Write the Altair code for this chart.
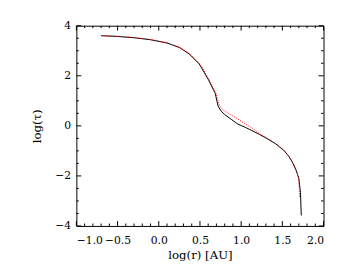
import altair as alt
import pandas as pd

# black solid curve
black_x = [-0.70, -0.50, -0.30, -0.10, 0.10, 0.25, 0.37, 0.49, 0.605, 0.685, 0.72, 0.755,
           0.80, 0.88, 0.96, 1.05, 1.12, 1.22, 1.32, 1.42, 1.515, 1.58, 1.63, 1.67, 1.70, 1.72, 1.73]
black_y = [3.60, 3.57, 3.52, 3.44, 3.31, 3.13, 2.87, 2.48, 1.83, 1.30, 0.79, 0.60,
           0.45, 0.26, 0.07, -0.06, -0.17, -0.34, -0.52, -0.72, -0.97, -1.22, -1.50, -1.80, -2.10, -2.66, -3.58]

# red dotted curve
red_x = [-0.70, -0.50, -0.30, -0.10, 0.10, 0.25, 0.38, 0.50, 0.615, 0.695, 0.735, 0.77,
         0.85, 0.96, 1.05, 1.12, 1.22, 1.32, 1.42, 1.515, 1.58, 1.63, 1.67, 1.70, 1.71]
red_y = [3.61, 3.58, 3.53, 3.45, 3.32, 3.14, 2.88, 2.48, 1.83, 1.30, 0.82, 0.66,
         0.50, 0.27, 0.08, -0.06, -0.30, -0.50, -0.71, -0.96, -1.22, -1.50, -1.80, -2.10, -2.86]

x_major = [-1.0, -0.5, 0.0, 0.5, 1.0, 1.5, 2.0]
x_minor = [-0.9, -0.8, -0.7, -0.6, -0.4, -0.3, -0.2, -0.1, 0.1, 0.2, 0.3, 0.4,
           0.6, 0.7, 0.8, 0.9, 1.1, 1.2, 1.3, 1.4, 1.6, 1.7, 1.8, 1.9]
y_major = [-4, -2, 0, 2, 4]
y_minor = [-3.5, -3, -2.5, -1.5, -1, -0.5, 0.5, 1, 1.5, 2.5, 3, 3.5]

W, H = 253, 205
FONT = "DejaVu Serif"

xs = alt.Scale(domain=[-1, 2], nice=False, zero=False)
ys = alt.Scale(domain=[-4, 4], nice=False, zero=False)

black = pd.DataFrame({"x": black_x, "y": black_y})
red = pd.DataFrame({"x": red_x, "y": red_y})

base_line = alt.Chart(black).mark_line(color="black", strokeWidth=1).encode(
    x=alt.X("x:Q", scale=xs,
            axis=alt.Axis(title="log(r) [AU]", values=x_major, format=".1f",
                          ticks=False, domain=False, grid=False,
                          labelPadding=9, titlePadding=4, titleFontSize=12)),
    y=alt.Y("y:Q", scale=ys,
            axis=alt.Axis(title="log(τ)", values=y_major, format="d",
                          ticks=False, domain=False, grid=False,
                          labelPadding=6, titlePadding=11, titleFontSize=12)),
    order=alt.Order("x:Q"),
)

red_line = alt.Chart(red).mark_line(color="red", strokeWidth=1, strokeDash=[1, 1.5]).encode(
    x=alt.X("x:Q", scale=xs), y=alt.Y("y:Q", scale=ys), order=alt.Order("x:Q"))

def xticks(vals, length):
    d = pd.DataFrame({"v": vals})
    bot = alt.Chart(d).mark_rule(color="black", strokeWidth=1).encode(
        x=alt.X("v:Q", scale=xs), y=alt.value(H), y2=alt.value(H - length))
    top = alt.Chart(d).mark_rule(color="black", strokeWidth=1).encode(
        x=alt.X("v:Q", scale=xs), y=alt.value(0), y2=alt.value(length))
    return [bot, top]

def yticks(vals, length):
    d = pd.DataFrame({"v": vals})
    left = alt.Chart(d).mark_rule(color="black", strokeWidth=1).encode(
        y=alt.Y("v:Q", scale=ys), x=alt.value(0), x2=alt.value(length))
    right = alt.Chart(d).mark_rule(color="black", strokeWidth=1).encode(
        y=alt.Y("v:Q", scale=ys), x=alt.value(W), x2=alt.value(W - length))
    return [left, right]

layers = [base_line, red_line] + xticks(x_major, 5) + xticks(x_minor, 2.5) \
    + yticks(y_major, 5) + yticks(y_minor, 2.5)

chart = alt.layer(*layers).properties(
    width=W, height=H,
    padding={"left": 70, "top": 15, "right": 23, "bottom": 45},
    autosize=alt.AutoSizeParams(type="none"),
    background="white",
).configure_view(
    stroke="black", strokeWidth=1
).configure_axis(
    labelFont=FONT, titleFont=FONT, labelFontSize=11, titleFontSize=12,
    labelColor="black", titleColor="black", titleFontWeight="normal",
)

chart.save("out.html", embed_options={"renderer": "svg", "actions": False})
